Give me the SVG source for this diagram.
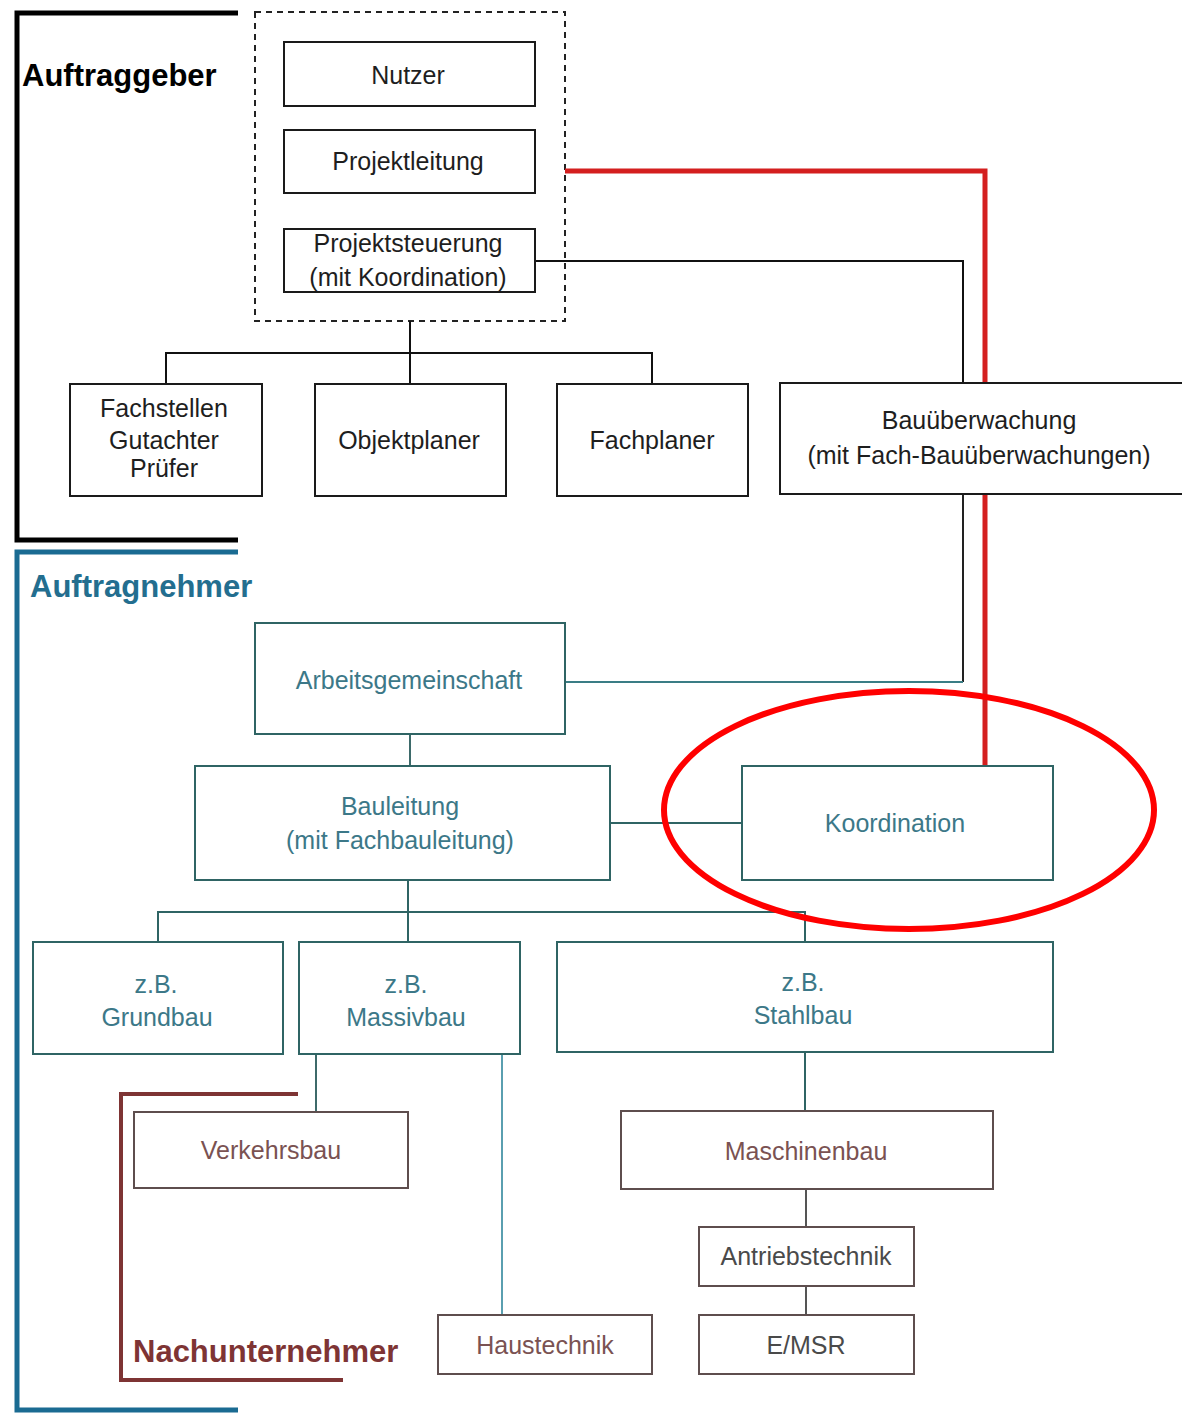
<svg xmlns="http://www.w3.org/2000/svg" width="1182" height="1413" viewBox="0 0 1182 1413">
<style>
.t{font-family:"Liberation Sans",Arial,sans-serif;font-size:25px;text-anchor:middle}
.blk rect{fill:#fff;stroke:#1a1a1a;stroke-width:2}
.blk text{fill:#1e1e1e}
.tl rect{fill:#fff;stroke:#2f6464;stroke-width:2}
.tl text{fill:#3c7888}
.br rect{fill:#fff;stroke:#5e4e4e;stroke-width:2}
.br text{fill:#7a5252}
.gr text{fill:#4a4a4a}
.h{font-family:"Liberation Sans",Arial,sans-serif;font-weight:bold;font-size:31px}
</style>
<rect width="1182" height="1413" fill="#fff"/>
<g id="brackets" fill="none">
<path d="M238,13 H17 V540 H238" stroke="#000" stroke-width="5"/>
<path d="M238,552 H17 V1410 H238" stroke="#1a6b92" stroke-width="5"/>
<path d="M298,1094 H121 V1380 H343" stroke="#7e3434" stroke-width="4"/>
<text class="h" x="22" y="86" fill="#000">Auftraggeber</text>
<text class="h" x="30" y="597" fill="#236e8f">Auftragnehmer</text>
<text class="h" x="133" y="1362" fill="#7e3434">Nachunternehmer</text>
</g>
<rect id="auftraggeber-group" x="255" y="12" width="310" height="309" fill="none" stroke="#222" stroke-width="2" stroke-dasharray="6,5"/>
<g id="connectors" fill="none">
<path d="M535,261 H963 V383" stroke="#111" stroke-width="2"/>
<path d="M963,494 V682" stroke="#222" stroke-width="2"/>
<path d="M963,682 H565" stroke="#3a7d85" stroke-width="2"/>
<path d="M410,321 V353 M166,384 V353 H652 V384 M410,353 V384" stroke="#111" stroke-width="2"/>
<path d="M410,734 V766" stroke="#3d6a6a" stroke-width="2"/>
<path d="M610,823 H742" stroke="#2f6464" stroke-width="2"/>
<path d="M408,880 V942 M158,942 V912 H805 V942" stroke="#2f6464" stroke-width="2"/>
<path d="M316,1054 V1112" stroke="#3d6a6a" stroke-width="2"/>
<path d="M502,1054 V1315" stroke="#5a9fb0" stroke-width="2"/>
<path d="M805,1052 V1111" stroke="#2f6464" stroke-width="2"/>
<path d="M806,1189 V1227 M806,1286 V1315" stroke="#555" stroke-width="2"/>
<path d="M565,171 H985 V765" stroke="#d41f1f" stroke-width="5"/>
</g>
<g id="n-nutzer" class="blk"><rect x="284" y="42" width="251" height="64"/><text class="t" x="408" y="84">Nutzer</text></g>
<g id="n-projektleitung" class="blk"><rect x="284" y="130" width="251" height="63"/><text class="t" x="408" y="170">Projektleitung</text></g>
<g id="n-projektsteuerung" class="blk"><rect x="284" y="229" width="251" height="63"/><text class="t" x="408" y="252">Projektsteuerung</text><text class="t" x="408" y="286">(mit Koordination)</text></g>
<g id="n-fachstellen" class="blk"><rect x="70" y="384" width="192" height="112"/><text class="t" x="164" y="417">Fachstellen</text><text class="t" x="164" y="449">Gutachter</text><text class="t" x="164" y="477">Prüfer</text></g>
<g id="n-objektplaner" class="blk"><rect x="315" y="384" width="191" height="112"/><text class="t" x="409" y="449">Objektplaner</text></g>
<g id="n-fachplaner" class="blk"><rect x="557" y="384" width="191" height="112"/><text class="t" x="652" y="449">Fachplaner</text></g>
<g id="n-bauueberwachung" class="blk"><rect x="780" y="383" width="410" height="111"/><text class="t" x="979" y="429">Bauüberwachung</text><text class="t" x="979" y="464">(mit Fach-Bauüberwachungen)</text></g>
<g id="n-arge" class="tl"><rect x="255" y="623" width="310" height="111"/><text class="t" x="409" y="689">Arbeitsgemeinschaft</text></g>
<g id="n-bauleitung" class="tl"><rect x="195" y="766" width="415" height="114"/><text class="t" x="400" y="815">Bauleitung</text><text class="t" x="400" y="849">(mit Fachbauleitung)</text></g>
<g id="n-koordination" class="tl"><rect x="742" y="766" width="311" height="114"/><text class="t" x="895" y="832">Koordination</text></g>
<g id="n-grundbau" class="tl"><rect x="33" y="942" width="250" height="112"/><text class="t" x="156" y="993">z.B.</text><text class="t" x="157" y="1026">Grundbau</text></g>
<g id="n-massivbau" class="tl"><rect x="299" y="942" width="221" height="112"/><text class="t" x="406" y="993">z.B.</text><text class="t" x="406" y="1026">Massivbau</text></g>
<g id="n-stahlbau" class="tl"><rect x="557" y="942" width="496" height="110"/><text class="t" x="803" y="991">z.B.</text><text class="t" x="803" y="1024">Stahlbau</text></g>
<g id="n-verkehrsbau" class="br"><rect x="134" y="1112" width="274" height="76"/><text class="t" x="271" y="1159">Verkehrsbau</text></g>
<g id="n-haustechnik" class="br"><rect x="438" y="1315" width="214" height="59"/><text class="t" x="545" y="1354">Haustechnik</text></g>
<g id="n-maschinenbau" class="br"><rect x="621" y="1111" width="372" height="78"/><text class="t" x="806" y="1160">Maschinenbau</text></g>
<g id="n-antriebstechnik" class="br gr"><rect x="699" y="1227" width="215" height="59"/><text class="t" x="806" y="1265">Antriebstechnik</text></g>
<g id="n-emsr" class="br gr"><rect x="699" y="1315" width="215" height="59"/><text class="t" x="806" y="1354">E/MSR</text></g>
<ellipse id="highlight" cx="909" cy="810" rx="245" ry="119" fill="none" stroke="#f00" stroke-width="6"/>
</svg>
